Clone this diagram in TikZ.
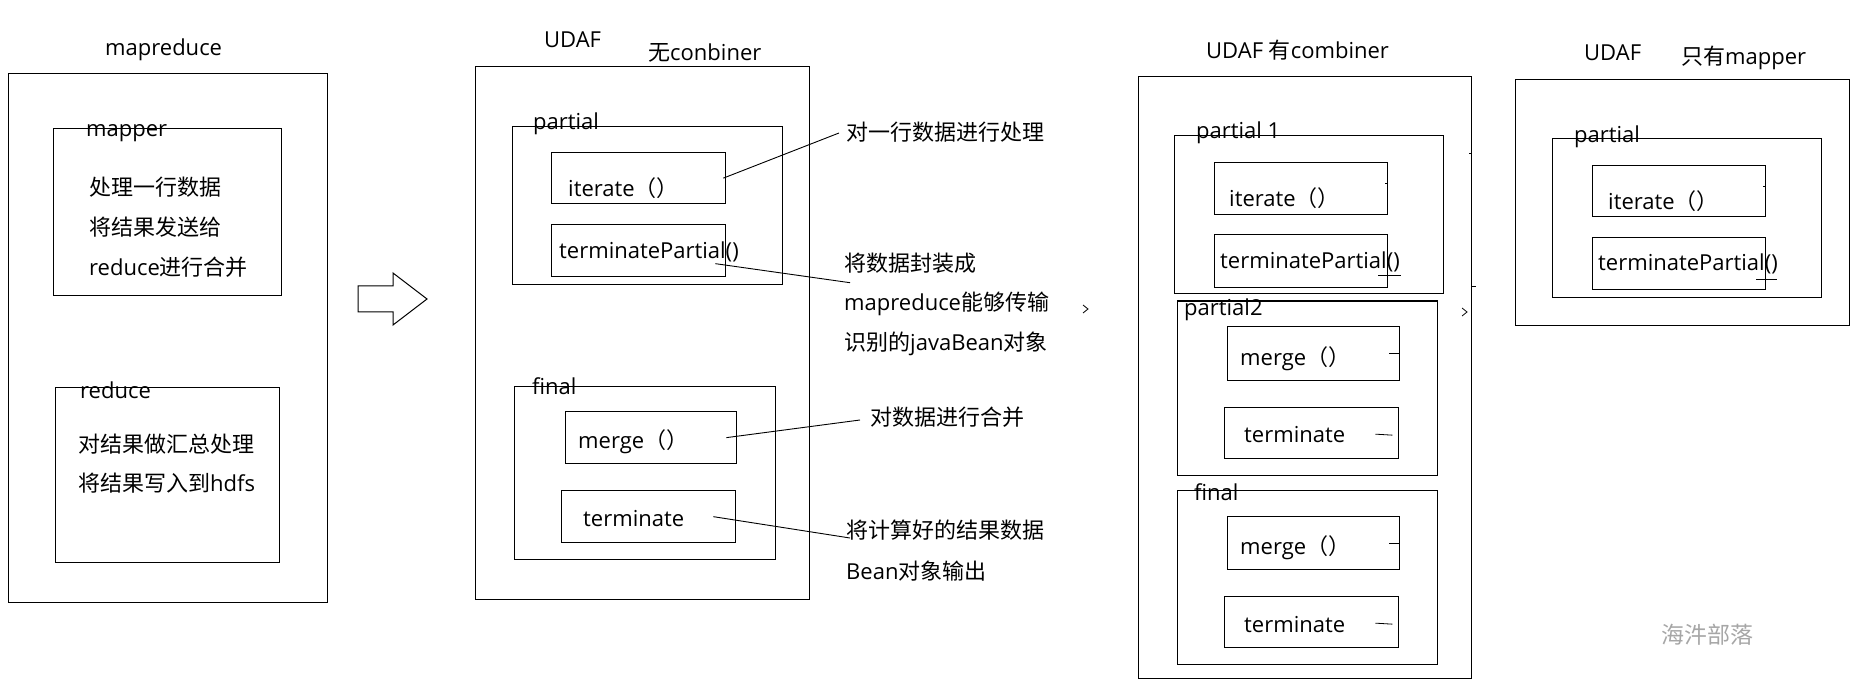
\documentclass[tikz,border=0pt]{standalone}
\usepackage{fontspec}
\setmainfont{Open Sans}
\newfontfamily\cjk{Noto Sans CJK SC}
\usetikzlibrary{positioning}

\begin{document}
\begin{tikzpicture}[x=1pt, y=-1pt,
  box/.style={draw, line width=1.3pt, inner sep=0pt, anchor=north west},
  txt/.style={inner sep=0pt, anchor=west, font=\fontsize{22}{26}\selectfont, text height=16pt, text depth=5pt},
  note/.style={line width=0.9pt},
  stray/.style={line width=0.8pt}]
\useasboundingbox (0,0) rectangle (1855,684);

% Plain mapreduce job
\node[txt] (mrT) at (105,50) {mapreduce};
\node[box, minimum width=319pt, minimum height=529pt] (mr) at (8,73) {};
\node[box, minimum width=228pt, minimum height=167pt] (map) at (53,128) {};
\node[txt] (mapT) at (86,131) {mapper};
\node[txt] (mapA) at (89,190) {\cjk 处理一行数据};
\node[txt, below right=19pt and 0pt of mapA.south west] (mapB) {\cjk 将结果发送给};
\node[txt, below right=18pt and 0pt of mapB.south west] (mapC) {reduce{\cjk 进行合并}};
\node[box, minimum width=224pt, minimum height=175pt] (red) at (55,387) {};
\node[txt] (redT) at (80,393) {reduce};
\node[txt] (redA) at (78,447) {\cjk 对结果做汇总处理};
\node[txt, below right=18pt and 0pt of redA.south west] (redB) {{\cjk 将结果写入到}hdfs};

% Turns into
\draw[line width=1pt] (358,286) -- (393,286) -- (393,273) -- (427,299) -- (393,325) -- (393,312) -- (358,312) -- cycle;

% UDAF without combiner
\node[txt] (udafT) at (544,42) {UDAF};
\node[txt] (udafS) at (648,55) {{\cjk 无}conbiner};
\node[box, minimum width=334pt, minimum height=533pt] (udaf) at (475,66) {};
\node[box, minimum width=270pt, minimum height=158pt] (part) at (512,126) {};
\node[txt] (partT) at (533,124) {partial};
\node[box, minimum width=174pt, minimum height=51pt] (it) at (551,152) {};
\node[txt] (itT) at (568,191) {iterate{\cjk （）}};
\node[box, minimum width=174pt, minimum height=52pt] (tp) at (551,224) {};
\node[txt] (tpT) at (559,253) {terminatePartial()};
\node[box, minimum width=261pt, minimum height=173pt] (fin) at (514,386) {};
\node[txt] (finT) at (532,389) {final};
\node[box, minimum width=171pt, minimum height=52pt] (mg) at (565,411) {};
\node[txt] (mgT) at (578,443) {merge{\cjk （）}};
\node[box, minimum width=174pt, minimum height=52pt] (tm) at (561,490) {};
\node[txt] (tmT) at (583,521) {terminate};

% Notes on the right
\node[txt] (n1) at (846,135) {\cjk 对一行数据进行处理};
\node[txt] (n2a) at (844,266) {\cjk 将数据封装成};
\node[txt, below right=18pt and 0pt of n2a.south west] (n2b) {mapreduce{\cjk 能够传输}};
\node[txt, below right=18pt and 0pt of n2b.south west] (n2c) {{\cjk 识别的}javaBean{\cjk 对象}};
\node[txt] (n3) at (870,420) {\cjk 对数据进行合并};
\node[txt] (n4a) at (846,533) {\cjk 将计算好的结果数据};
\node[txt, below right=20pt and 0pt of n4a.south west] (n4b) {Bean{\cjk 对象输出}};
\draw[note] ([xshift=-3pt]it.east) -- ([xshift=-7pt, yshift=2pt]n1.west);
\draw[note] ([xshift=-11pt, yshift=-13pt]tp.east) -- ([xshift=6pt, yshift=-6pt]n2a.south west);
\draw[note] ([xshift=-11pt]mg.east) -- ([xshift=-10pt]n3.west);
\draw[note] ([xshift=-23pt]tm.east) -- ([xshift=4pt, yshift=-5pt]n4a.west);
\draw[stray] (1083,305) -- (1088,309) -- (1083,313);

% UDAF with combiner
\node[txt] (cbT) at (1206,53) {UDAF {\cjk 有}combiner};
\node[box, minimum width=333pt, minimum height=602pt] (cb) at (1138,76) {};
\node[box, minimum width=269pt, minimum height=158pt] (pa) at (1174,135) {};
\node[txt] (paT) at (1196,133) {partial 1};
\node[box, minimum width=173pt, minimum height=52pt] (it3) at (1214,162) {};
\node[txt] (it3T) at (1229,201) {iterate{\cjk （）}};
\node[box, minimum width=173pt, minimum height=53pt] (tp3) at (1214,234) {};
\node[txt] (tp3T) at (1220,263) {terminatePartial()};
\node[box, minimum width=260pt, minimum height=174pt] (pb) at (1177,301) {};
\node[txt, fill=white, text depth=2pt] (pbT) at (1184,309) {partial2};
\node[box, minimum width=172pt, minimum height=54pt] (mg3) at (1227,326) {};
\node[txt] (mg3T) at (1240,360) {merge{\cjk （）}};
\node[box, minimum width=174pt, minimum height=51pt] (tm3) at (1224,407) {};
\node[txt] (tm3T) at (1244,437) {terminate};
\node[box, minimum width=260pt, minimum height=174pt] (fn3) at (1177,490) {};
\node[txt] (fn3T) at (1194,495) {final};
\node[box, minimum width=172pt, minimum height=53pt] (mg4) at (1227,516) {};
\node[txt] (mg4T) at (1240,549) {merge{\cjk （）}};
\node[box, minimum width=174pt, minimum height=51pt] (tm4) at (1224,596) {};
\node[txt] (tm4T) at (1244,627) {terminate};
\draw[line width=1.3pt] (pb.north west) -- (pb.north east);
% left-over ticks
\draw[stray] ([xshift=-3pt, yshift=5pt]it3.east) -- ([yshift=5pt]it3.east);
\draw[stray] ([xshift=-10pt, yshift=-14pt]tp3.east) -- ([xshift=13pt, yshift=-14pt]tp3.east);
\draw[stray] ([xshift=-11pt]mg3.east) -- (mg3.east);
\draw[stray] ([xshift=-24pt, yshift=-1pt]tm3.east) -- ([xshift=-7pt, yshift=-2pt]tm3.east);
\draw[stray] ([xshift=-11pt]mg4.east) -- (mg4.east);
\draw[stray] ([xshift=-24pt, yshift=-1pt]tm4.east) -- ([xshift=-7pt, yshift=-2pt]tm4.east);
\draw[stray] ([xshift=-3pt]cb.north east |- 0,153) -- (cb.north east |- 0,153);
\draw[stray] (cb.north east |- 0,286) -- ([xshift=4pt]cb.north east |- 0,286);
\draw[stray] (1462,308) -- (1467,312) -- (1462,316);

% UDAF with mapper only
\node[txt] (mpT) at (1584,55) {UDAF};
\node[txt] (mpS) at (1681,59) {{\cjk 只有}mapper};
\node[box, minimum width=334pt, minimum height=246pt] (mp) at (1515,79) {};
\node[box, minimum width=269pt, minimum height=159pt] (p4) at (1552,138) {};
\node[txt] (p4T) at (1574,137) {partial};
\node[box, minimum width=173pt, minimum height=51pt] (it4) at (1592,165) {};
\node[txt] (it4T) at (1608,204) {iterate{\cjk （）}};
\node[box, minimum width=173pt, minimum height=52pt] (tp4) at (1592,237) {};
\node[txt] (tp4T) at (1598,265) {terminatePartial()};
\draw[stray] ([xshift=-3pt, yshift=5pt]it4.east) -- ([yshift=5pt]it4.east);
\draw[stray] ([xshift=-10pt, yshift=-16pt]tp4.east) -- ([xshift=11pt, yshift=-16pt]tp4.east);

% Watermark
\node[txt, font=\fontsize{23}{27}\selectfont\cjk, text=black!35] (wm) at (1661,638) {海汼部落};
\end{tikzpicture}
\end{document}
